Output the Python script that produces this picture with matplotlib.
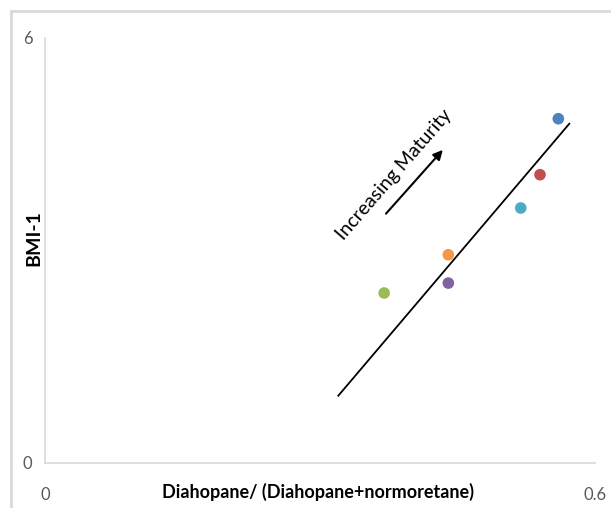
import matplotlib.pyplot as plt
from matplotlib.patches import Rectangle

plt.rcParams['font.family'] = ['Lato', 'DejaVu Sans']

# sample ratios and BMI-1 values, coloured per well
ratio = [0.560, 0.540, 0.519, 0.440, 0.440, 0.370]
bmi = [4.86, 4.07, 3.60, 2.94, 2.54, 2.40]
colors = ['#4F81BD', '#C0504D', '#4BACC6', '#F79646', '#8064A2', '#9BBB59']

# trend line and maturity arrow end points (data units)
trend_x = [0.320, 0.572]
trend_y = [0.95, 4.79]
arrow_start = (0.372, 3.52)
arrow_end = (0.434, 4.42)

fig = plt.figure(figsize=(6.11, 5.08), dpi=100)
ax = fig.add_axes([0.0736, 0.0886, 0.9002, 0.8366])

# chart frame
fig.patches.append(Rectangle((10.5 / 611, -0.1), 1.2, 1 - 11.5 / 508 + 0.1,
                             transform=fig.transFigure, fill=False,
                             edgecolor='#d9d9d9', linewidth=2))

ax.plot(trend_x, trend_y, color='black', linewidth=1.3)
ax.scatter(ratio, bmi, s=70, c=colors, zorder=3, edgecolors='none')

ax.annotate('', xy=arrow_end, xytext=arrow_start,
            arrowprops=dict(arrowstyle='-|>', color='black', lw=1.5,
                            mutation_scale=14, shrinkA=0, shrinkB=0))
ax.text(0.3812, 4.07, 'Increasing Maturity', rotation=49, fontsize=14,
        ha='center', va='center', rotation_mode='anchor')

ax.set_xlim(0, 0.6)
ax.set_ylim(0, 6)
ax.set_xticks([0, 0.6])
ax.set_xticklabels(['0', '0.6'])
ax.set_yticks([0, 6])
ax.set_yticklabels(['0', '6'])
ax.tick_params(length=0, labelsize=12, labelcolor='#595959')
ax.tick_params(axis='x', pad=17)
ax.tick_params(axis='y', pad=9)

for side in ['top', 'right']:
    ax.spines[side].set_visible(False)
for side in ['left', 'bottom']:
    ax.spines[side].set_color('#d9d9d9')
    ax.spines[side].set_linewidth(1.2)

ax.set_xlabel('Diahopane/ (Diahopane+normoretane)', fontsize=13,
              fontweight='bold')
ax.xaxis.set_label_coords(0.496, -0.047)
ax.set_ylabel('BMI-1', fontsize=14, fontweight='bold')
ax.yaxis.set_label_coords(-0.0055, 0.53)

fig.savefig('out.png', dpi=100)
